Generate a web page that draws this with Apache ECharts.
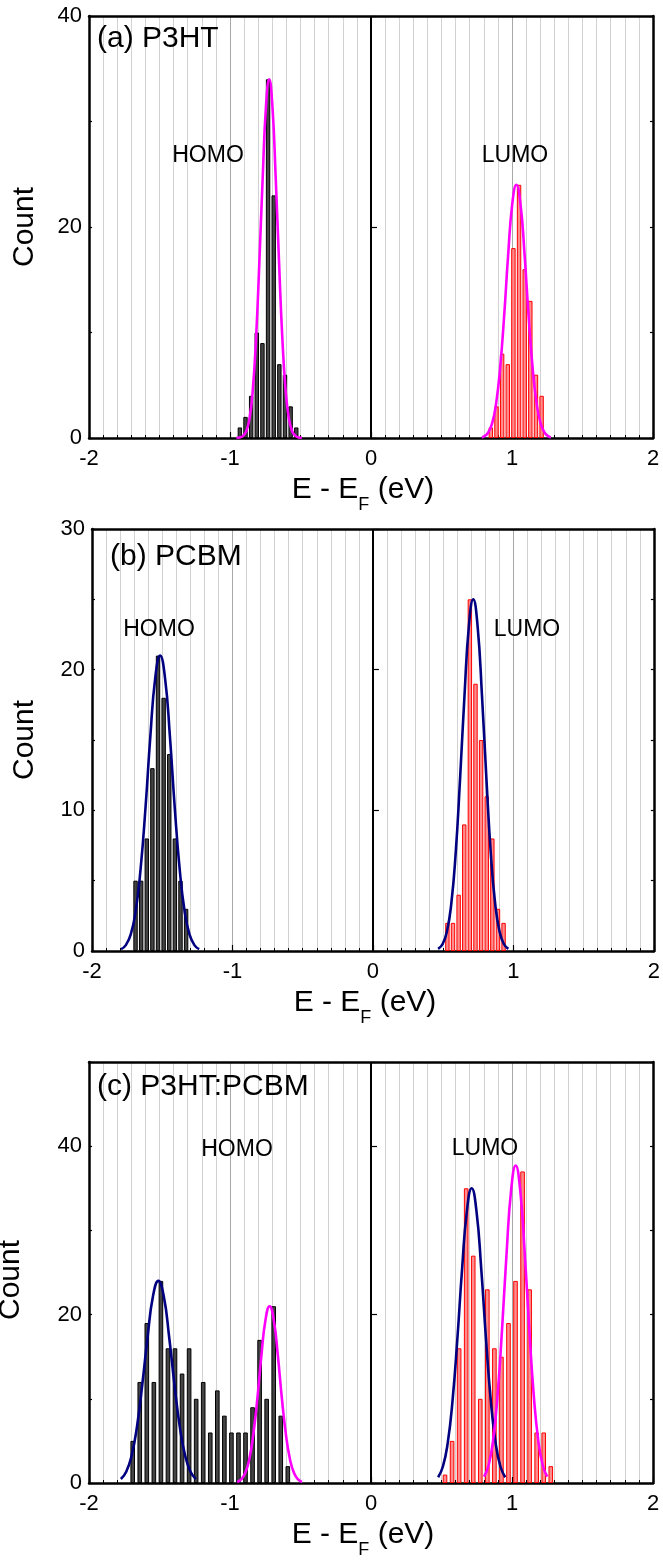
<!DOCTYPE html>
<html><head><meta charset="utf-8">
<script src="https://cdn.jsdelivr.net/npm/echarts/dist/echarts.min.js"></script>
<style>html,body{margin:0;padding:0;background:#fff}#c{width:663px;height:1562px}</style>
</head><body><div id="c"></div>
<script>
// ---------- data ----------
const xTicks = [-2, -1, 0, 1, 2];
// (a) P3HT
const aHomoX = [-0.93,-0.89,-0.85,-0.81,-0.77,-0.73,-0.69,-0.65,-0.61,-0.57,-0.53];
const aHomoY = [1,2,4,10,9,34,23,7,6,3,1];
const aLumoX = [0.85,0.89,0.93,0.97,1.01,1.05,1.09,1.13,1.17,1.21];
const aLumoY = [1,3,8,7,18,24,16,13,6,4];
const aFitHomoX = [-0.954,-0.931,-0.908,-0.884,-0.861,-0.838,-0.815,-0.792,-0.768,-0.745,-0.722,-0.699,-0.676,-0.652,-0.629,-0.606,-0.583,-0.560,-0.536,-0.513,-0.490];
const aFitHomoY = [0.01,0.05,0.2,0.67,1.9,4.6,9.5,16.6,24.7,31.4,34,31.4,24.7,16.6,9.5,4.6,1.9,0.67,0.2,0.05,0.01];
const aFitLumoX = [0.786,0.801,0.829,0.858,0.887,0.916,0.945,0.973,1.002,1.031,1.060,1.089,1.117,1.146,1.175,1.204,1.233,1.261,1.276];
const aFitLumoY = [0.07,0.14,0.48,1.34,3.24,6.67,11.7,17.4,22.2,24,22.2,17.4,11.7,6.67,3.24,1.34,0.48,0.14,0.07];
// (b) PCBM
const bHomoX = [-1.69,-1.65,-1.61,-1.57,-1.53,-1.49,-1.45,-1.41,-1.37,-1.33];
const bHomoY = [5,5,8,13,21,18,14,8,5,3];
const bLumoX = [0.53,0.57,0.61,0.65,0.69,0.73,0.77,0.81,0.85,0.89,0.93];
const bLumoY = [2,2,4,9,25,19,15,11,8,3,2];
const bFitHomoX = [-1.793,-1.759,-1.724,-1.689,-1.654,-1.619,-1.585,-1.550,-1.515,-1.480,-1.445,-1.411,-1.376,-1.341,-1.306,-1.271,-1.237];
const bFitHomoY = [0.13,0.42,1.18,2.84,5.84,10.2,15.2,19.4,21,19.4,15.2,10.2,5.84,2.84,1.18,0.42,0.13];
const bFitLumoX = [0.464,0.496,0.527,0.558,0.589,0.620,0.652,0.683,0.714,0.745,0.776,0.808,0.839,0.870,0.901,0.932,0.964];
const bFitLumoY = [0.15,0.5,1.4,3.38,6.95,12.2,18.2,23.1,25,23.1,18.2,12.2,6.95,3.38,1.4,0.5,0.15];
// (c) P3HT:PCBM
const cHomoX = [-1.69,-1.64,-1.59,-1.54,-1.49,-1.44,-1.39,-1.34,-1.29,-1.24,-1.19,-1.14,-1.09,-1.04,-0.99,-0.94,-0.89,-0.84,-0.79,-0.74,-0.69,-0.64,-0.59];
const cHomoY = [5,12,19,12,24,16,16,13,16,10,12,6,11,8,6,6,6,9,17,10,21,8,2];
const cLumoX = [0.525,0.575,0.625,0.675,0.725,0.775,0.825,0.875,0.925,0.975,1.025,1.075,1.125,1.175,1.225,1.275];
const cLumoY = [1,5,16,35,27,10,23,16,15,19,24,37,23,6,6,2];
const cFitHomo1X = [-1.774,-1.736,-1.698,-1.660,-1.622,-1.584,-1.546,-1.508,-1.470,-1.432,-1.394,-1.356,-1.318,-1.280,-1.242];
const cFitHomo1Y = [0.48,1.34,3.24,6.67,11.7,17.4,22.2,24,22.2,17.4,11.7,6.67,3.24,1.34,0.48];
const cFitHomo2X = [-0.949,-0.921,-0.892,-0.863,-0.834,-0.805,-0.777,-0.748,-0.719,-0.690,-0.661,-0.633,-0.604,-0.575,-0.546,-0.517,-0.489];
const cFitHomo2Y = [0.13,0.42,1.18,2.84,5.84,10.2,15.2,19.4,21,19.4,15.2,10.2,5.84,2.84,1.18,0.42,0.13];
const cFitLumo1X = [0.476,0.510,0.544,0.578,0.612,0.646,0.680,0.714,0.748,0.782,0.816,0.850,0.884,0.918,0.952];
const cFitLumo1Y = [0.69,1.96,4.73,9.73,17.0,25.4,32.3,35,32.3,25.4,17.0,9.73,4.73,1.96,0.69];
const cFitLumo2X = [0.802,0.834,0.866,0.898,0.930,0.962,0.994,1.026,1.058,1.090,1.122,1.154,1.186,1.218,1.250];
const cFitLumo2Y = [0.75,2.11,5.09,10.5,18.4,27.4,34.8,37.7,34.8,27.4,18.4,10.5,5.09,2.11,0.75];

const panelNames = ['(a) P3HT', '(b) PCBM', '(c) P3HT:PCBM'];
const yTickMax = [40, 30, 50];
const yMinorStep = [10, 5, 10];
const yMajorStep = [20, 10, 20];

// ---------- style ----------
const FONT = 'Liberation Sans, Arial, sans-serif';
const MAGENTA = '#ff00ff', NAVY = '#000080';
const grids = [
  {left: 89, top: 16, width: 564, height: 422},
  {left: 92, top: 529, width: 564, height: 422},
  {left: 89, top: 1062, width: 564, height: 421}
];
const barW = [4.4, 4.4, 4.6];

const zip = (xs, ys) => xs.map((x, i) => [x, ys[i]]);
const axisLine = {show: true, onZero: false, lineStyle: {color: '#000', width: 2.5}};

const xAxes = [], yAxes = [], series = [];
grids.forEach((g, i) => {
  xAxes.push({
    type: 'value', gridIndex: i, position: 'bottom', min: xTicks[0], max: xTicks[xTicks.length-1], interval: 1,
    axisLine: axisLine,
    axisTick: {show: true, inside: true, length: 6, lineStyle: {color: '#000', width: 1.2}},
    minorTick: {show: true, splitNumber: 10, length: 3, lineStyle: {color: '#000', width: 1}},
    splitLine: {show: true, lineStyle: {color: '#a8a8a8', width: 1}},
    minorSplitLine: {show: true, lineStyle: {color: '#d2d2d2', width: 1}},
    axisLabel: {color: '#000', fontSize: 22, fontFamily: FONT, margin: 10}
  });
  xAxes.push({
    type: 'value', gridIndex: i, position: 'top', min: -2, max: 2, interval: 1,
    axisLine: axisLine, axisTick: {show: false}, axisLabel: {show: false}, splitLine: {show: false}
  });
  const major = yMajorStep[i];
  yAxes.push({
    type: 'value', gridIndex: i, position: 'left', min: 0, max: yTickMax[i], interval: yMinorStep[i],
    axisLine: axisLine,
    axisTick: {show: true, inside: true, length: 3, lineStyle: {color: '#000', width: 1.2}},
    axisLabel: {color: '#000', fontSize: 22, fontFamily: FONT, margin: 7,
      formatter: v => (v % major === 0 && v <= 40 ? String(v) : '')},
    splitLine: {show: false}
  });
  yAxes.push({
    type: 'value', gridIndex: i, position: 'left', min: 0, max: yTickMax[i], interval: major,
    axisLine: {show: false},
    axisTick: {show: true, inside: true, length: 6, lineStyle: {color: '#000', width: 1.2}},
    axisLabel: {show: false}, splitLine: {show: false}
  });
  yAxes.push({
    type: 'value', gridIndex: i, position: 'right', min: 0, max: yTickMax[i], interval: yMinorStep[i],
    axisLine: axisLine,
    axisTick: {show: true, inside: true, length: 3, lineStyle: {color: '#000', width: 1.2}},
    axisLabel: {show: false}, splitLine: {show: false}
  });
});

function homoBar(i, xs, ys) {
  return {type: 'bar', xAxisIndex: 2*i, yAxisIndex: 3*i, data: zip(xs, ys), barWidth: barW[i], barGap: '-100%',
    itemStyle: {color: '#444444', borderColor: '#000', borderWidth: 1}, z: 3, silent: true,
    markLine: {silent: true, symbol: 'none', label: {show: false}, lineStyle: {color: '#000', width: 2, type: 'solid'},
      data: [{xAxis: 0}], animation: false}};
}
function lumoBar(i, xs, ys) {
  return {type: 'bar', xAxisIndex: 2*i, yAxisIndex: 3*i, data: zip(xs, ys), barWidth: barW[i], barGap: '-100%',
    itemStyle: {color: '#ff8c8c', borderColor: '#ff0000', borderWidth: 1}, z: 3, silent: true};
}
function fit(i, xs, ys, color) {
  return {type: 'line', xAxisIndex: 2*i, yAxisIndex: 3*i, data: zip(xs, ys), smooth: true, showSymbol: false,
    lineStyle: {color: color, width: 2.6}, z: 5, silent: true};
}
series.push(homoBar(0, aHomoX, aHomoY), lumoBar(0, aLumoX, aLumoY),
  fit(0, aFitHomoX, aFitHomoY, MAGENTA), fit(0, aFitLumoX, aFitLumoY, MAGENTA));
series.push(homoBar(1, bHomoX, bHomoY), lumoBar(1, bLumoX, bLumoY),
  fit(1, bFitHomoX, bFitHomoY, NAVY), fit(1, bFitLumoX, bFitLumoY, NAVY));
series.push(homoBar(2, cHomoX, cHomoY), lumoBar(2, cLumoX, cLumoY),
  fit(2, cFitHomo1X, cFitHomo1Y, NAVY), fit(2, cFitHomo2X, cFitHomo2Y, MAGENTA),
  fit(2, cFitLumo1X, cFitLumo1Y, NAVY), fit(2, cFitLumo2X, cFitLumo2Y, MAGENTA));

// ---------- text annotations ----------
function txt(x, y, s, size, align) {
  return {type: 'text', x: x, y: y, z: 10, silent: true,
    style: {text: s, fontSize: size, fontFamily: FONT, fill: '#000', align: align || 'center', verticalAlign: 'middle'}};
}
function countLabel(x, y) {
  return {type: 'text', x: x, y: y, rotation: Math.PI/2, z: 10, silent: true,
    style: {text: 'Count', fontSize: 30, fontFamily: FONT, fill: '#000', align: 'center', verticalAlign: 'middle'}};
}
function eLabel(x, yMid) {
  return {type: 'text', x: x, y: yMid - 15, z: 10, silent: true,
    style: {text: '{m|E - E}{s|F}{m| (eV)}', fontFamily: FONT, fill: '#000', align: 'center', verticalAlign: 'top',
      rich: {
        m: {fontSize: 30, fontFamily: FONT, fill: '#000', lineHeight: 30, verticalAlign: 'top'},
        s: {fontSize: 18, fontFamily: FONT, fill: '#000', lineHeight: 18, verticalAlign: 'top', padding: [21, 0, 0, 0]}
      }}};
}
const graphic = [
  txt(97, 39, panelNames[0], 30, 'left'),
  txt(110, 557, panelNames[1], 30, 'left'),
  txt(97, 1087, panelNames[2], 30, 'left'),
  txt(208, 156, 'HOMO', 23), txt(515, 156, 'LUMO', 23),
  txt(159, 630, 'HOMO', 23), txt(527, 630, 'LUMO', 23),
  txt(237, 1150, 'HOMO', 23), txt(485, 1149, 'LUMO', 23),
  countLabel(25, 227), countLabel(25, 740), countLabel(11, 1280),
  eLabel(363, 490), eLabel(365, 1003), eLabel(363, 1535)
];

const chart = echarts.init(document.getElementById('c'), null, {renderer: 'canvas'});
chart.setOption({
  animation: false,
  backgroundColor: '#fff',
  grid: grids,
  xAxis: xAxes,
  yAxis: yAxes,
  series: series,
  graphic: graphic
});
</script>
</body></html>
